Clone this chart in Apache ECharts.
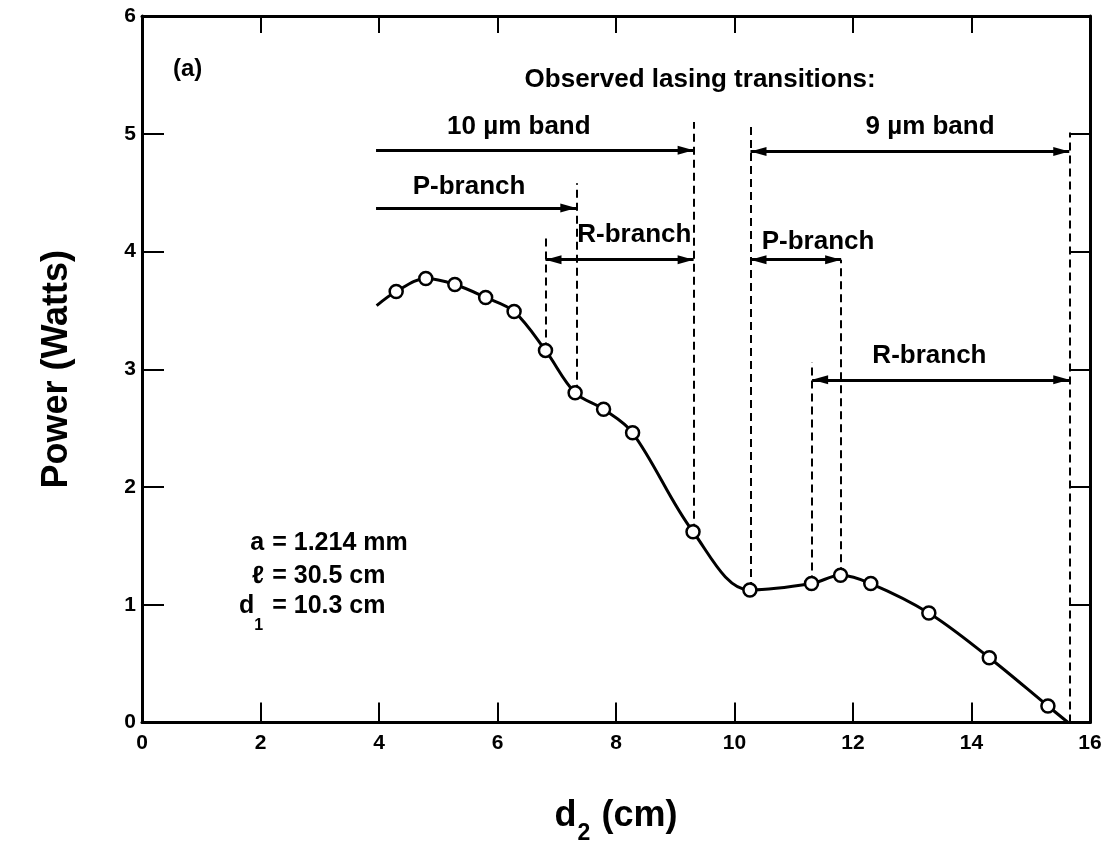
<!DOCTYPE html>
<html><head><meta charset="utf-8">
<script src="https://cdn.jsdelivr.net/npm/echarts@6.0.0/dist/echarts.min.js"></script>
<style>html,body{margin:0;padding:0;background:#fff}#c{width:1105px;height:845px}</style>
</head><body><div id="c"></div>
<script>
// ---- data ----
const curveX = [3.96, 4.29, 4.79, 5.28, 5.80, 6.28, 6.81, 7.31, 7.79, 8.28, 9.30, 10.26, 11.30, 11.79, 12.30, 13.28, 14.30, 15.29, 15.63];
const curveY = [3.54, 3.66, 3.77, 3.72, 3.61, 3.49, 3.16, 2.80, 2.66, 2.46, 1.62, 1.125, 1.18, 1.25, 1.18, 0.93, 0.55, 0.14, 0.0];
const curveMeasured = [false, true, true, true, true, true, true, true, true, true, true, true, true, true, true, true, true, true, false];

const dashX = [6.81, 7.33, 9.31, 10.27, 11.31, 11.80, 15.65];
const dashBottom = [3.16, 2.80, 1.62, 1.125, 1.18, 1.25, 0.0];
const dashTop = [4.15, 4.58, 5.10, 5.10, 3.06, 3.93, 5.01];

const arrowFrom = [3.95, 3.95, 6.81, 10.27, 10.27, 11.31];
const arrowTo = [9.31, 7.33, 9.31, 15.65, 11.80, 15.65];
const arrowY = [4.86, 4.37, 3.93, 4.85, 3.93, 2.91];
const arrowBothEnds = [false, false, true, true, true, true];

const noteText = ['(a)', 'Observed lasing transitions:', '10 µm band', 'P-branch', 'R-branch', '9 µm band', 'P-branch', 'R-branch'];
const noteX = [0.77, 9.42, 6.36, 5.52, 8.31, 13.30, 11.41, 13.29];
const noteY = [5.55, 5.46, 5.06, 4.55, 4.14, 5.06, 4.08, 3.11];

const paramName = ['a', 'ℓ', 'd₁'];
const paramValue = ['= 1.214 mm', '= 30.5 cm', '= 10.3 cm'];
const paramY = [1.525, 1.245, 0.99];
const paramX = 2.13;

const xTitle = 'd₂ (cm)';
const yTitle = 'Power (Watts)';

// ---- build ----
const FONT = '"Liberation Sans", Arial, Helvetica, sans-serif';
const SUBS = '₀₁₂₃₄₅₆₇₈₉';
function toRich(str) {
  let out = '', buf = '';
  for (const ch of str) {
    const k = SUBS.indexOf(ch);
    if (k >= 0) {
      if (buf) { out += '{t|' + buf + '}'; buf = ''; }
      out += '{s|' + k + '}';
    } else buf += ch;
  }
  if (buf) out += '{t|' + buf + '}';
  return out;
}
const ARROW = 'path://M-16,0 M16,0 M0,16 L4.5,32 L-4.5,32 Z';

const curveData = curveX.map((x, i) => curveMeasured[i]
  ? [x, curveY[i]]
  : { value: [x, curveY[i]], symbol: 'none' });

const dashData = dashX.map((x, i) => ({ coords: [[x, dashBottom[i]], [x, dashTop[i]]] }));
const arrowData = arrowFrom.map((x, i) => ({
  coords: [[x, arrowY[i]], [arrowTo[i], arrowY[i]]],
  symbol: [arrowBothEnds[i] ? ARROW : 'none', ARROW]
}));

const noteData = noteText.map((t, i) => ({
  value: [noteX[i], noteY[i]], name: t,
  label: { fontSize: i === 0 ? 24 : 26 }
}));
const paramData = [];
paramName.forEach((n, i) => {
  paramData.push({ value: [paramX, paramY[i]], name: toRich(n), label: { align: 'right', padding: [0, 4, 0, 0] } });
  paramData.push({ value: [paramX, paramY[i]], name: toRich(paramValue[i]), label: { align: 'left', padding: [0, 0, 0, 4] } });
});

const axisLine = { show: true, onZero: false, lineStyle: { color: '#000', width: 3 } };
const option = {
  backgroundColor: '#fff',
  animation: false,
  grid: { left: 142, right: 15, top: 16, bottom: 122.5, containLabel: false, outerBoundsMode: 'none' },
  xAxis: [
    { type: 'value', min: 0, max: 16, interval: 2, position: 'bottom',
      axisLine, axisTick: { show: true, inside: true, length: 20, lineStyle: { color: '#000', width: 2 } },
      axisLabel: { color: '#000', fontSize: 21, fontWeight: 'bold', fontFamily: FONT, margin: 10 },
      splitLine: { show: false },
      name: toRich(xTitle), nameLocation: 'middle', nameGap: 64,
      nameTextStyle: { color: '#000', fontFamily: FONT,
        rich: { t: { fontSize: 36, fontWeight: 'bold', fontFamily: FONT, color: '#000', lineHeight: 60 },
                s: { fontSize: 23, fontWeight: 'bold', fontFamily: FONT, color: '#000', padding: [34, 1, 0, 1] } } } },
    { type: 'value', min: 0, max: 16, interval: 2, position: 'top',
      axisLine, axisTick: { show: true, inside: true, length: 17, lineStyle: { color: '#000', width: 2 } },
      axisLabel: { show: false }, splitLine: { show: false } }
  ],
  yAxis: [
    { type: 'value', min: 0, max: 6, interval: 1, position: 'left',
      axisLine, axisTick: { show: true, inside: true, length: 22, lineStyle: { color: '#000', width: 2 } },
      axisLabel: { color: '#000', fontSize: 21, fontWeight: 'bold', fontFamily: FONT, margin: 6 },
      splitLine: { show: false },
      name: yTitle, nameLocation: 'middle', nameGap: 67,
      nameTextStyle: { color: '#000', fontSize: 36, fontWeight: 'bold', fontFamily: FONT } },
    { type: 'value', min: 0, max: 6, interval: 1, position: 'right',
      axisLine, axisTick: { show: true, inside: true, length: 21, lineStyle: { color: '#000', width: 2 } },
      axisLabel: { show: false }, splitLine: { show: false } }
  ],
  series: [
    { type: 'lines', coordinateSystem: 'cartesian2d', xAxisIndex: 0, yAxisIndex: 0, silent: true, z: 2,
      data: dashData, symbol: ['none', 'none'],
      lineStyle: { color: '#000', width: 2, type: [8, 5], opacity: 1, curveness: 0 } },
    { type: 'lines', coordinateSystem: 'cartesian2d', xAxisIndex: 0, yAxisIndex: 0, silent: true, z: 3,
      data: arrowData, symbolSize: 32,
      lineStyle: { color: '#000', width: 3, type: 'solid', opacity: 1, curveness: 0 } },
    { type: 'line', xAxisIndex: 0, yAxisIndex: 0, data: curveData, smooth: 0.35, z: 5,
      showAllSymbol: true, symbol: 'circle', symbolSize: 13,
      lineStyle: { color: '#000', width: 3 },
      itemStyle: { color: '#fff', borderColor: '#000', borderWidth: 2.5, opacity: 1 } },
    { type: 'scatter', xAxisIndex: 0, yAxisIndex: 0, silent: true, z: 6, symbolSize: 1,
      itemStyle: { color: 'rgba(0,0,0,0)', opacity: 1 }, data: noteData,
      label: { show: true, position: 'inside', formatter: p => p.name, opacity: 1,
        color: '#000', fontSize: 26, fontWeight: 'bold', fontFamily: FONT } },
    { type: 'scatter', xAxisIndex: 0, yAxisIndex: 0, silent: true, z: 6, symbolSize: 1,
      itemStyle: { color: 'rgba(0,0,0,0)', opacity: 1 }, data: paramData,
      label: { show: true, position: 'inside', formatter: p => p.name, opacity: 1, color: '#000',
        rich: { t: { fontSize: 25, fontWeight: 'bold', fontFamily: FONT, color: '#000', lineHeight: 48 },
                s: { fontSize: 16, fontWeight: 'bold', fontFamily: FONT, color: '#000', padding: [40, 1, 0, 0] } } } }
  ]
};
const chart = echarts.init(document.getElementById('c'), null, { renderer: 'canvas' });
chart.setOption(option);
</script></body></html>
